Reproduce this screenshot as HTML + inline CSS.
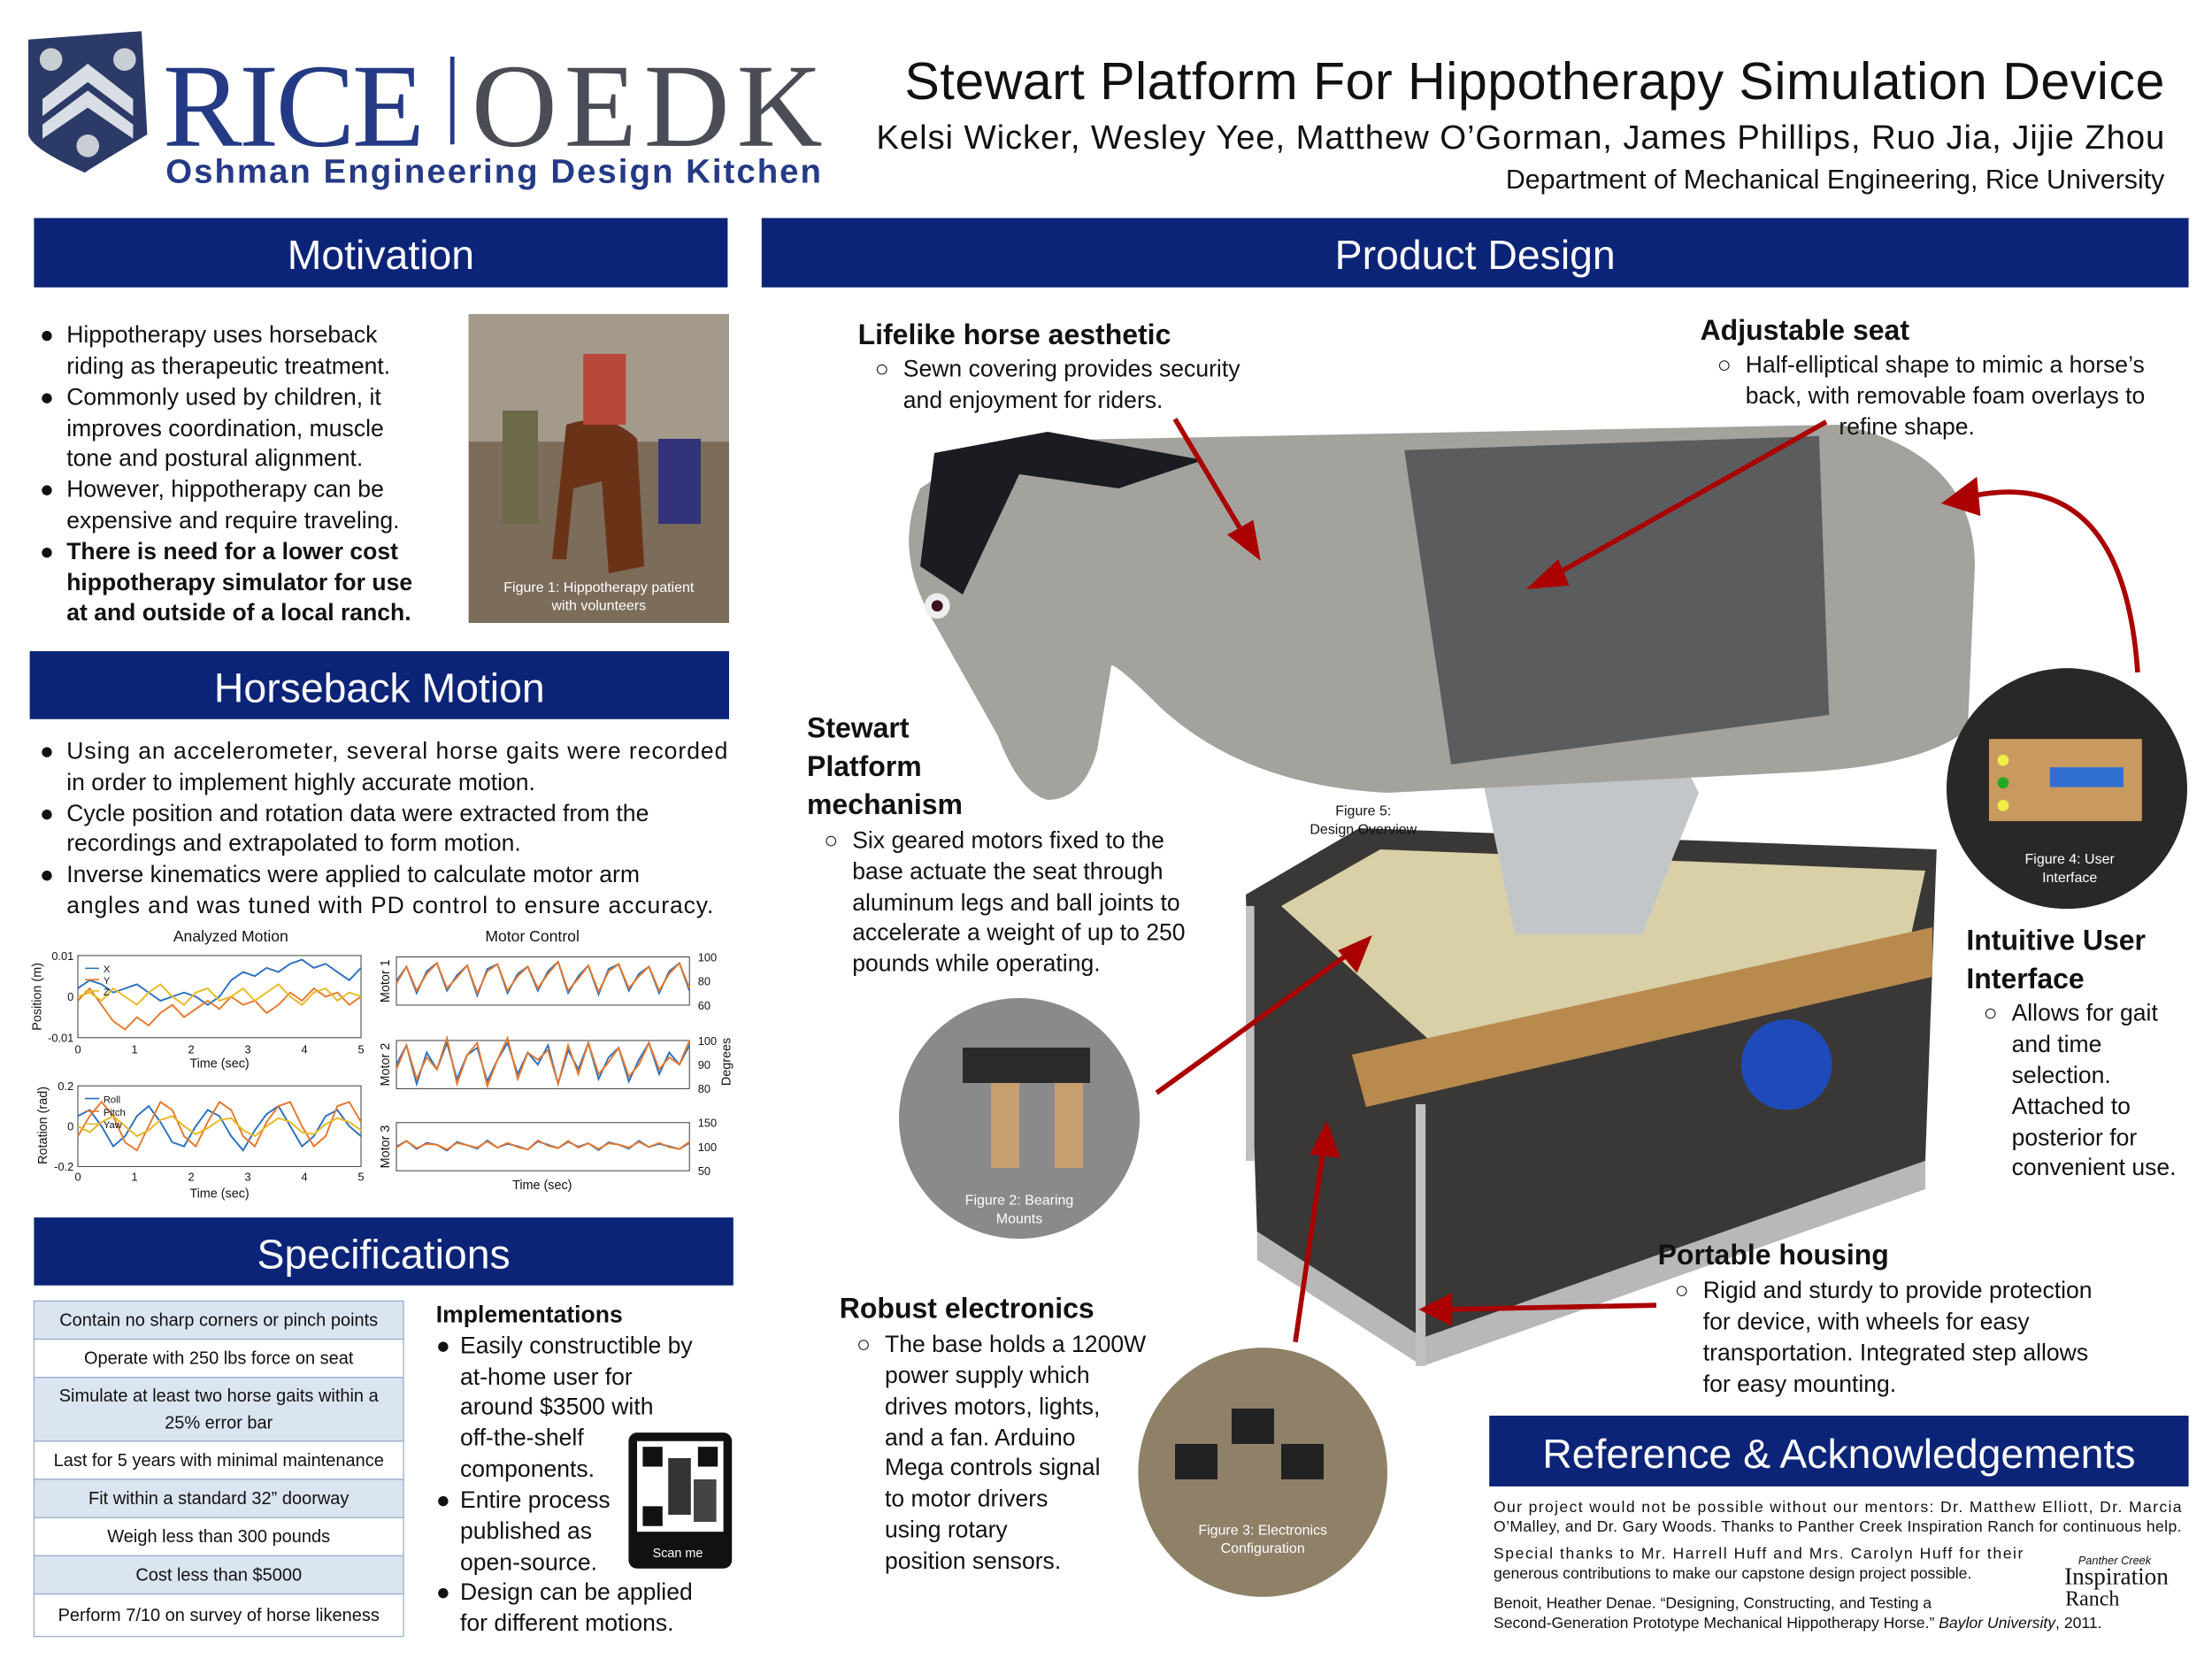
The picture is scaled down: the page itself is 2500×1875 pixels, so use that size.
<!DOCTYPE html>
<html><head><meta charset="utf-8">
<style>
html,body{margin:0;padding:0;background:#fff;width:2500px;height:1875px;overflow:hidden}
svg{display:block}
text{font-family:"Liberation Sans",sans-serif;fill:#111}
.h{fill:#fff;font-size:29px;text-anchor:middle}
.b{font-size:16.6px}
</style></head><body>
<svg id="poster" width="2500" height="1875" viewBox="0 0 1562.5 1171.9" xmlns="http://www.w3.org/2000/svg">
<g>
<path d="M20 28 L100 22 L104 95 Q62 120 60 122 Q22 105 20 95Z" fill="#2b3a67"/>
<path d="M30 70 L62 45 L94 70 L94 82 L62 58 L30 82Z" fill="#d8dde6"/>
<path d="M30 88 L62 64 L94 88 L94 98 L62 76 L30 98Z" fill="#d8dde6"/>
<circle cx="36" cy="42" r="8" fill="#c9cdd4"/><circle cx="88" cy="42" r="8" fill="#c9cdd4"/><circle cx="62" cy="103" r="8" fill="#c9cdd4"/>
<text x="115" y="103" textLength="185" style="font-family:'Liberation Serif',serif;font-size:84px;fill:#253a85">RICE</text>
<rect x="318" y="40" width="3" height="62" fill="#253a85"/>
<text x="333" y="103" textLength="248" style="font-family:'Liberation Serif',serif;font-size:84px;fill:#4a4d55">OEDK</text>
<text x="117" y="129" textLength="463" style="font-size:24px;font-weight:bold;fill:#253a85">Oshman Engineering Design Kitchen</text>
</g>
<text x="1529" y="70" text-anchor="end" textLength="890" style="font-size:37px">Stewart Platform For Hippotherapy Simulation Device</text>
<text x="1529" y="105" text-anchor="end" textLength="910" style="font-size:24px">Kelsi Wicker, Wesley Yee, Matthew O’Gorman, James Phillips, Ruo Jia, Jijie Zhou</text>
<text x="1529" y="133" text-anchor="end" style="font-size:19px">Department of Mechanical Engineering, Rice University</text>

<g fill="#0c2477">
<rect x="24" y="154" width="490" height="49"/>
<rect x="538" y="154" width="1008" height="49"/>
<rect x="21" y="460" width="494" height="48"/>
<rect x="24" y="860" width="494" height="48"/>
<rect x="1052" y="1000" width="494" height="50"/>
</g>
<text class="h" x="269" y="190">Motivation</text>
<text class="h" x="1042" y="190">Product Design</text>
<text class="h" x="268" y="496">Horseback Motion</text>
<text class="h" x="271" y="896">Specifications</text>
<text class="h" x="1299" y="1037">Reference &amp; Acknowledgements</text>

<g>
<text class="b" x="28" y="242">●</text><text class="b" x="47" y="242">Hippotherapy uses horseback</text>
<text class="b" x="47" y="264">riding as therapeutic treatment.</text>
<text class="b" x="28" y="286">●</text><text class="b" x="47" y="286">Commonly used by children, it</text>
<text class="b" x="47" y="308">improves coordination, muscle</text>
<text class="b" x="47" y="329">tone and postural alignment.</text>
<text class="b" x="28" y="351">●</text><text class="b" x="47" y="351">However, hippotherapy can be</text>
<text class="b" x="47" y="373">expensive and require traveling.</text>
<text class="b" x="28" y="395" font-weight="bold">●</text><text class="b" x="47" y="395" font-weight="bold">There is need for a lower cost</text>
<text class="b" x="47" y="417" font-weight="bold">hippotherapy simulator for use</text>
<text class="b" x="47" y="438" font-weight="bold">at and outside of a local ranch.</text>
</g>
<g>
<rect x="331" y="222" width="184" height="218" fill="#7c6c5a"/>
<rect x="331" y="222" width="184" height="90" fill="#a49a8c"/>
<path d="M400 300 Q430 290 450 310 L455 400 L430 405 L425 340 L405 345 L400 395 L390 395Z" fill="#6a3318"/>
<rect x="412" y="250" width="30" height="50" fill="#b8483a"/>
<rect x="355" y="290" width="25" height="80" fill="#6c6a48"/>
<rect x="465" y="310" width="30" height="60" fill="#33337a"/>
<text x="423" y="418" text-anchor="middle" style="font-size:10px;fill:#fff">Figure 1: Hippotherapy patient</text>
<text x="423" y="431" text-anchor="middle" style="font-size:10px;fill:#fff">with volunteers</text>
</g>

<g>
<text class="b" x="28" y="536">●</text><text class="b" x="47" y="536" textLength="467">Using an accelerometer, several horse gaits were recorded</text>
<text class="b" x="47" y="558">in order to implement highly accurate motion.</text>
<text class="b" x="28" y="580">●</text><text class="b" x="47" y="580">Cycle position and rotation data were extracted from the</text>
<text class="b" x="47" y="601">recordings and extrapolated to form motion.</text>
<text class="b" x="28" y="623">●</text><text class="b" x="47" y="623">Inverse kinematics were applied to calculate motor arm</text>
<text class="b" x="47" y="645" textLength="457">angles and was tuned with PD control to ensure accuracy.</text>
</g>
<g id="charts"></g>

<g id="spec"></g>
<g>
<text x="308" y="934" style="font-size:16.6px;font-weight:bold">Implementations</text>
<text class="b" x="308" y="956">●</text><text class="b" x="325" y="956">Easily constructible by</text>
<text class="b" x="325" y="978">at-home user for</text>
<text class="b" x="325" y="999">around $3500 with</text>
<text class="b" x="325" y="1021">off-the-shelf</text>
<text class="b" x="325" y="1043">components.</text>
<text class="b" x="308" y="1065">●</text><text class="b" x="325" y="1065">Entire process</text>
<text class="b" x="325" y="1087">published as</text>
<text class="b" x="325" y="1109">open-source.</text>
<text class="b" x="308" y="1130">●</text><text class="b" x="325" y="1130">Design can be applied</text>
<text class="b" x="325" y="1152">for different motions.</text>
</g>
<g>
<rect x="444" y="1012" width="73" height="96" rx="6" fill="#111"/>
<rect x="450" y="1018" width="61" height="64" fill="#fff"/>
<rect x="454" y="1022" width="14" height="14" fill="#111"/><rect x="493" y="1022" width="14" height="14" fill="#111"/><rect x="454" y="1064" width="14" height="14" fill="#111"/>
<rect x="472" y="1030" width="16" height="40" fill="#333"/><rect x="490" y="1045" width="16" height="30" fill="#444"/>
<text x="461" y="1100" style="font-size:9px;fill:#fff">Scan me</text>
</g>

<g>
<path d="M880 632 L960 585 L1368 600 L1360 820 L1005 945 L888 870Z" fill="#3a3836"/>
<path d="M905 640 L975 600 L1360 615 L1350 660 L1010 735Z" fill="#d9d0a8"/>
<path d="M955 745 L1365 655 L1365 690 L965 782Z" fill="#b88a4e"/>
<path d="M888 870 L1005 945 L1360 820 L1360 840 L1005 965 L888 890Z" fill="#b8b8b8"/>
<rect x="1000" y="780" width="7" height="185" fill="#c0c0c0"/><rect x="880" y="640" width="6" height="180" fill="#c0c0c0"/>
<circle cx="1262" cy="752" r="32" fill="#1a4fd0" opacity="0.85"/>
<path d="M1045 540 L1100 520 L1180 520 L1200 560 L1160 660 L1070 660Z" fill="#c3c6c9"/>
<path d="M650 345 Q700 310 790 310 L1300 300 Q1395 320 1395 400 L1390 515 Q1360 540 1280 545 L980 560 Q880 555 820 500 Q790 470 785 470 L775 530 Q765 565 740 565 Q720 560 705 520 L660 440 Q630 390 650 345Z" fill="#a3a29d"/>
<path d="M660 320 L740 305 L850 325 L790 345 L720 335 L680 420 L650 400Z" fill="#1a1c22"/>
<path d="M992 318 L1285 308 L1292 505 L1025 540 Z" fill="#5b5c5e"/>
<circle cx="662" cy="428" r="9" fill="#eee"/><circle cx="662" cy="428" r="4" fill="#401020"/>
</g>
<g>
<circle cx="720" cy="790" r="85" fill="#8a8a8c"/>
<rect x="680" y="740" width="90" height="25" fill="#2a2a2a"/>
<rect x="700" y="765" width="20" height="60" fill="#c8a070"/><rect x="745" y="765" width="20" height="60" fill="#c8a070"/>
<text x="720" y="851" text-anchor="middle" style="font-size:10px;fill:#fff">Figure 2: Bearing</text>
<text x="720" y="864" text-anchor="middle" style="font-size:10px;fill:#fff">Mounts</text>
</g>
<g>
<circle cx="892" cy="1040" r="88" fill="#8f8068"/>
<rect x="830" y="1020" width="30" height="25" fill="#222"/><rect x="870" y="995" width="30" height="25" fill="#222"/><rect x="905" y="1020" width="30" height="25" fill="#222"/>
<text x="892" y="1084" text-anchor="middle" style="font-size:10px;fill:#fff">Figure 3: Electronics</text>
<text x="892" y="1097" text-anchor="middle" style="font-size:10px;fill:#fff">Configuration</text>
</g>
<g>
<circle cx="1460" cy="557" r="85" fill="#2a2826"/>
<rect x="1405" y="522" width="108" height="58" fill="#c89a60"/>
<rect x="1448" y="542" width="52" height="14" fill="#3070d0"/>
<circle cx="1415" cy="537" r="4" fill="#ee4"/><circle cx="1415" cy="553" r="4" fill="#2a2"/><circle cx="1415" cy="569" r="4" fill="#ee4"/>
<text x="1462" y="610" text-anchor="middle" style="font-size:10px;fill:#fff">Figure 4: User</text>
<text x="1462" y="623" text-anchor="middle" style="font-size:10px;fill:#fff">Interface</text>
</g>
<text x="963" y="576" text-anchor="middle" style="font-size:10px">Figure 5:</text>
<text x="963" y="589" text-anchor="middle" style="font-size:10px">Design Overview</text>
<g stroke="#a00" stroke-width="3.5" fill="#a00">
<line x1="830" y1="296" x2="880" y2="380"/><path d="M888 392 L870 378 L884 370Z"/>
<line x1="1290" y1="298" x2="1095" y2="408"/><path d="M1083 414 L1100 398 L1106 412Z"/>
<path d="M1510 475 Q1500 330 1395 350" fill="none"/><path d="M1375 355 L1395 340 L1397 362Z"/>
<line x1="817" y1="772" x2="955" y2="672"/><path d="M966 664 L958 684 L948 672Z"/>
<line x1="915" y1="948" x2="935" y2="810"/><path d="M937 796 L944 816 L928 814Z"/>
<line x1="1170" y1="922" x2="1020" y2="925"/><path d="M1006 925 L1024 916 L1024 934Z"/>
</g>
<g>
<text x="606" y="243" style="font-size:20px;font-weight:bold">Lifelike horse aesthetic</text>
<text class="b" x="618" y="266">○</text><text class="b" x="638" y="266">Sewn covering provides security</text>
<text class="b" x="638" y="288">and enjoyment for riders.</text>
<text x="1201" y="240" style="font-size:20px;font-weight:bold">Adjustable seat</text>
<text class="b" x="1213" y="263">○</text><text class="b" x="1233" y="263">Half-elliptical shape to mimic a horse’s</text>
<text class="b" x="1233" y="285">back, with removable foam overlays to</text>
<text class="b" x="1299" y="307">refine shape.</text>
<text x="570" y="521" style="font-size:20px;font-weight:bold">Stewart</text>
<text x="570" y="548" style="font-size:20px;font-weight:bold">Platform</text>
<text x="570" y="575" style="font-size:20px;font-weight:bold">mechanism</text>
<text class="b" x="582" y="599">○</text><text class="b" x="602" y="599">Six geared motors fixed to the</text>
<text class="b" x="602" y="621">base actuate the seat through</text>
<text class="b" x="602" y="643">aluminum legs and ball joints to</text>
<text class="b" x="602" y="664">accelerate a weight of up to 250</text>
<text class="b" x="602" y="686">pounds while operating.</text>
<text x="1389" y="671" style="font-size:20px;font-weight:bold">Intuitive User</text>
<text x="1389" y="698" style="font-size:20px;font-weight:bold">Interface</text>
<text class="b" x="1401" y="721">○</text><text class="b" x="1421" y="721">Allows for gait</text>
<text class="b" x="1421" y="743">and time</text>
<text class="b" x="1421" y="765">selection.</text>
<text class="b" x="1421" y="787">Attached to</text>
<text class="b" x="1421" y="809">posterior for</text>
<text class="b" x="1421" y="830">convenient use.</text>
<text x="593" y="931" style="font-size:20px;font-weight:bold">Robust electronics</text>
<text class="b" x="605" y="955">○</text><text class="b" x="625" y="955">The base holds a 1200W</text>
<text class="b" x="625" y="977">power supply which</text>
<text class="b" x="625" y="999">drives motors, lights,</text>
<text class="b" x="625" y="1021">and a fan. Arduino</text>
<text class="b" x="625" y="1042">Mega controls signal</text>
<text class="b" x="625" y="1064">to motor drivers</text>
<text class="b" x="625" y="1086">using rotary</text>
<text class="b" x="625" y="1108">position sensors.</text>
<text x="1171" y="893" style="font-size:20px;font-weight:bold">Portable housing</text>
<text class="b" x="1183" y="917">○</text><text class="b" x="1203" y="917">Rigid and sturdy to provide protection</text>
<text class="b" x="1203" y="939">for device, with wheels for easy</text>
<text class="b" x="1203" y="961">transportation. Integrated step allows</text>
<text class="b" x="1203" y="983">for easy mounting.</text>
</g>
<g>
<text x="1055" y="1068" textLength="486" style="font-size:11px">Our project would not be possible without our mentors: Dr. Matthew Elliott, Dr. Marcia</text>
<text x="1055" y="1082" textLength="486" style="font-size:11px">O’Malley, and Dr. Gary Woods. Thanks to Panther Creek Inspiration Ranch for continuous help.</text>
<text x="1055" y="1101" textLength="374" style="font-size:11px">Special thanks to Mr. Harrell Huff and Mrs. Carolyn Huff for their</text>
<text x="1055" y="1115" style="font-size:11px">generous contributions to make our capstone design project possible.</text>
<text x="1055" y="1136" style="font-size:11px">Benoit, Heather Denae. “Designing, Constructing, and Testing a</text>
<text x="1055" y="1150" style="font-size:11px">Second-Generation Prototype Mechanical Hippotherapy Horse.” <tspan font-style="italic">Baylor University</tspan>, 2011.</text>
<text x="1495" y="1119" text-anchor="middle" style="font-family:'Liberation Serif',serif;font-size:17px">Inspiration</text>
<text x="1478" y="1134" text-anchor="middle" style="font-family:'Liberation Serif',serif;font-size:15px">Ranch</text>
<text x="1468" y="1105" style="font-size:8px;font-style:italic">Panther Creek</text>
</g>
</svg>
<script>
const NS='http://www.w3.org/2000/svg';
function mk(tag,attrs,parent,txt){const e=document.createElementNS(NS,tag);for(const k in attrs)e.setAttribute(k,attrs[k]);if(txt!==undefined)e.textContent=txt;parent.appendChild(e);return e;}
const specRows=['Contain no sharp corners or pinch points','Operate with 250 lbs force on seat','Simulate at least two horse gaits within a|25% error bar','Last for 5 years with minimal maintenance','Fit within a standard 32” doorway','Weigh less than 300 pounds','Cost less than $5000','Perform 7/10 on survey of horse likeness'];
const specH=[27,27,45,27,27,27,27,30];
const sp=document.getElementById('spec');
let y=919;
specRows.forEach((r,i)=>{
  const rc=mk('rect',{x:24,y:y,width:261,height:specH[i],fill:i%2==0?'#dbe5f1':'#fff',stroke:'#9aaccc','stroke-width':0.8},sp);
  
  
  const parts=r.split('|');
  parts.forEach((p,j)=>{mk('text',{x:154.5,y:y+specH[i]/2+4+(parts.length>1?(j-0.5)*19:0),'text-anchor':'middle',style:'font-size:12.5px'},sp,p);});
  y+=specH[i];
});
const timeTicks=[0,1,2,3,4,5];
const posX=[0.002,0.004,0.003,0.001,0.002,0.003,0.001,-0.001,0.0,0.001,0.0,-0.002,0.0,0.004,0.006,0.005,0.007,0.006,0.008,0.009,0.007,0.008,0.006,0.004,0.007];
const posY=[-0.001,0.002,-0.002,-0.006,-0.008,-0.005,-0.007,-0.004,-0.002,-0.005,-0.003,-0.001,-0.003,0.0,-0.002,-0.001,-0.004,-0.002,0.001,-0.001,0.002,0.0,0.001,-0.002,0.0];
const posZ=[0.0,0.001,-0.001,0.002,0.0,-0.002,0.001,0.003,0.0,-0.002,0.001,0.002,-0.001,0.0,0.002,-0.001,0.001,0.003,0.0,-0.002,0.001,0.002,-0.001,0.001,0.0];
const rotR=[0.05,0.08,0.0,-0.1,-0.05,0.05,0.1,0.02,-0.08,-0.1,0.0,0.08,0.05,-0.05,-0.12,-0.02,0.06,0.1,0.0,-0.1,-0.05,0.05,0.08,0.0,-0.05];
const rotP=[-0.05,0.05,0.12,0.05,-0.08,-0.12,0.0,0.12,0.08,-0.05,-0.1,0.02,0.12,0.08,-0.05,-0.1,0.02,0.1,0.12,0.0,-0.1,-0.05,0.1,0.12,0.02];
const rotYaw=[0.0,-0.03,0.02,0.05,0.0,-0.05,-0.02,0.03,0.05,0.0,-0.04,-0.01,0.03,0.04,-0.02,-0.05,0.0,0.04,0.02,-0.03,-0.04,0.01,0.04,0.02,-0.02];
const motor1Ref=[80,92,70,88,95,72,85,93,68,90,94,70,86,92,72,88,96,70,84,93,69,90,94,72,86,92,70,88,95,72];
const motor2Ref=[90,98,82,95,88,99,84,94,97,83,92,99,86,95,90,98,82,96,88,99,84,93,97,83,92,99,86,95,90,98];
const motor3Ref=[100,112,95,108,104,92,110,103,96,113,98,106,101,94,111,104,97,110,100,107,93,109,104,96,112,99,106,101,95,108];
const motor1Ticks=[100,80,60],motor2Ticks=[100,90,80],motor3Ticks=[150,100,50];
const ch=document.getElementById('charts');
function lineChart(o){
  const g=mk('g',{},ch);
  mk('rect',{x:o.x,y:o.y,width:o.w,height:o.h,fill:'#fff',stroke:'#333','stroke-width':0.6},g);
  const sy=v=>o.y+o.h-(v-o.min)/(o.max-o.min)*o.h;
  o.series.forEach((s,k)=>{
    const n=s.length;const pts=s.map((v,i)=>(o.x+i/(n-1)*o.w).toFixed(1)+','+sy(v).toFixed(1)).join(' ');
    const pl=mk('polyline',{points:pts,fill:'none',stroke:o.colors[k],'stroke-width':1.2},g);
    
    
  });
  o.yt.forEach(v=>mk('text',{x:o.right?o.x+o.w+6:o.x-3,y:sy(v)+3,'text-anchor':o.right?'start':'end',style:'font-size:8px'},g,String(v)));
  return g;
}
const C=['#2a6fc0','#e6782a','#e8b820'];
mk('text',{x:163,y:665,'text-anchor':'middle',style:'font-size:11px'},ch,'Analyzed Motion');
mk('text',{x:376,y:665,'text-anchor':'middle',style:'font-size:11px'},ch,'Motor Control');
lineChart({name:'position-chart',x:55,y:675,w:200,h:58,min:-0.01,max:0.01,series:[posX,posY,posZ],colors:C,yt:[0.01,0,-0.01]});
timeTicks.forEach(t=>mk('text',{x:55+t/5*200,y:744,'text-anchor':'middle',style:'font-size:8px'},ch,String(t)));
mk('text',{x:155,y:754,'text-anchor':'middle',style:'font-size:9px'},ch,'Time (sec)');
mk('text',{x:0,y:0,transform:'translate(29,704) rotate(-90)','text-anchor':'middle',style:'font-size:9px'},ch,'Position (m)');
lineChart({name:'rotation-chart',x:55,y:767,w:200,h:57,min:-0.2,max:0.2,series:[rotR,rotP,rotYaw],colors:C,yt:[0.2,0,-0.2]});
timeTicks.forEach(t=>mk('text',{x:55+t/5*200,y:834,'text-anchor':'middle',style:'font-size:8px'},ch,String(t)));
mk('text',{x:155,y:846,'text-anchor':'middle',style:'font-size:9px'},ch,'Time (sec)');
mk('text',{x:0,y:0,transform:'translate(33,795) rotate(-90)','text-anchor':'middle',style:'font-size:9px'},ch,'Rotation (rad)');
['X','Y','Z'].forEach((l,i)=>{mk('line',{x1:60,x2:70,y1:684+i*8,y2:684+i*8,stroke:C[i]},ch);mk('text',{x:73,y:687+i*8,style:'font-size:7px'},ch,l);});
['Roll','Pitch','Yaw'].forEach((l,i)=>{mk('line',{x1:60,x2:70,y1:776+i*9,y2:776+i*9,stroke:C[i]},ch);mk('text',{x:73,y:779+i*9,style:'font-size:7px'},ch,l);});
const mot=[[motor1Ref,60,100,motor1Ticks,676,'Motor 1'],[motor2Ref,80,100,motor2Ticks,735,'Motor 2'],[motor3Ref,50,150,motor3Ticks,793,'Motor 3']];
mot.forEach((m,k)=>{
  const act=m[0].map((v,i)=>v+(i%3-1)*2);
  lineChart({name:'motor-'+(k+1)+'-chart',x:280,y:m[4],w:207,h:34,min:m[1],max:m[2],series:[m[0],act],colors:['#2a6fc0','#e6782a'],yt:m[3],right:true});
  mk('text',{x:0,y:0,transform:'translate(275,'+(m[4]+17)+') rotate(-90)','text-anchor':'middle',style:'font-size:9px'},ch,m[5]);
});
mk('text',{x:383,y:840,'text-anchor':'middle',style:'font-size:9px'},ch,'Time (sec)');
mk('text',{x:0,y:0,transform:'translate(516,750) rotate(-90)','text-anchor':'middle',style:'font-size:9px'},ch,'Degrees');
</script>
</body></html>
